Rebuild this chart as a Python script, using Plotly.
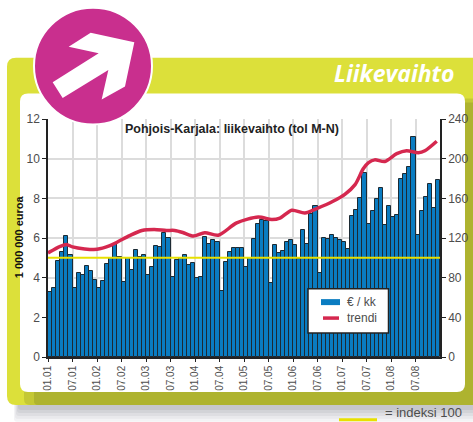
import plotly.graph_objects as go

W, H = 473, 422
L, R, T, B = 48, 440, 118.5, 357

# Monthly turnover, 01.01 .. 12.08 (million euro)
months = list(range(96))
revenue = [
    3.3, 3.5, 4.85, 5.3, 6.1, 5.15, 3.5, 4.25, 4.15, 4.6, 4.33, 3.9,
    3.47, 3.82, 4.7, 5.0, 5.7, 5.03, 3.8, 5.0, 4.38, 5.4, 5.05, 5.13,
    4.13, 4.53, 5.6, 5.55, 6.25, 6.0, 4.03, 4.9, 4.97, 5.13, 4.63, 4.75,
    3.97, 4.05, 6.05, 5.68, 5.88, 5.8, 3.33, 4.78, 5.28, 5.48, 5.48, 5.48,
    4.53, 5.0, 5.95, 6.7, 6.9, 6.87, 3.72, 5.64, 5.24, 5.34, 5.8, 5.88,
    5.64, 4.93, 6.4, 5.68, 7.23, 7.63, 4.22, 6.02, 5.97, 6.15, 6.02, 5.89,
    5.8, 5.47, 7.13, 7.43, 8.03, 9.3, 6.7, 7.38, 7.95, 8.54, 6.68, 7.63,
    7.08, 7.18, 8.99, 9.24, 9.56, 11.07, 6.14, 7.35, 8.09, 8.74, 7.53, 8.94,
]
trend_x = [0, 3, 4.5, 6, 9, 12, 15, 17, 20, 23, 26, 29, 31, 33, 35.6, 38.4, 41.7,
           46.2, 51.5, 54.8, 56.8, 59.7, 62.9, 65.8, 69.8, 72.7, 75.2, 77.2, 78.5,
           80, 82.5, 85.4, 87.8, 90.7, 92.3, 95.2]
trend_y = [5.25, 5.58, 5.67, 5.55, 5.45, 5.43, 5.6, 5.8, 6.12, 6.38, 6.43, 6.38, 6.38, 6.28,
           6.1, 6.27, 6.14, 6.76, 7.06, 6.93, 7.0, 7.4, 7.26, 7.48, 7.85, 8.2, 8.69,
           9.49, 9.8, 9.94, 9.86, 10.25, 10.4, 10.3, 10.4, 10.88]
index_x = [0, 96]
index_y = [100, 100]
tick_months = list(range(0, 96, 6))
tick_labels = ["01.01", "07.01", "01.02", "07.02", "01.03", "07.03", "01.04", "07.04",
               "01.05", "07.05", "01.06", "07.06", "01.07", "07.07", "01.08", "07.08"]

FONT = "Liberation Sans, sans-serif"
GREY = "#4d4d4d"
BLUE = "#0a7cc1"
RED = "#d5284f"


def px(x):
    return (x - L) / (R - L)


def py(y):
    return (B - y) / (B - T)


def rrect(x0, y0, x1, y1, r):
    return (f"M{px(x0+r)},{py(y0)} L{px(x1-r)},{py(y0)} Q{px(x1)},{py(y0)} {px(x1)},{py(y0+r)} "
            f"L{px(x1)},{py(y1-r)} Q{px(x1)},{py(y1)} {px(x1-r)},{py(y1)} "
            f"L{px(x0+r)},{py(y1)} Q{px(x0)},{py(y1)} {px(x0)},{py(y1-r)} "
            f"L{px(x0)},{py(y0+r)} Q{px(x0)},{py(y0)} {px(x0+r)},{py(y0)} Z")


def deco(path, color, layer="below"):
    return dict(type="path", xref="paper", yref="paper", path=path, fillcolor=color,
                line=dict(width=0), layer=layer)


def label(text, x, y, size, color=GREY, xanchor="center", angle=0, family=FONT):
    return dict(text=text, xref="paper", yref="paper", x=px(x), y=py(y), xanchor=xanchor,
                yanchor="middle", textangle=angle, showarrow=False,
                font=dict(size=size, color=color, family=family))


shapes = []
# soft drop shadow below the frame
for i, c in enumerate(["#f3f3f5", "#e9e9ec", "#dedee2", "#d2d3d7", "#c6c7cc"]):
    shapes.append(deco(rrect(14 + i, 400, 480, 422 - i * 3, 3), c))
shapes.append(deco(rrect(7, 57, 490, 405, 9), "#dce03a"))
shapes.append(deco(rrect(24, 98, 490, 405, 6), "#c4c834"))
shapes.append(deco(rrect(34, 102, 490, 405, 4), "#aeb32f"))
shapes.append(deco(rrect(20, 93, 465, 392, 8), "#ffffff"))
# legend box
shapes.append(dict(type="rect", xref="paper", yref="paper", x0=px(308), x1=px(388.5), y0=py(288.5), y1=py(333),
                   fillcolor="#ffffff", line=dict(color="#222", width=1.5), layer="above"))
shapes.append(dict(type="rect", xref="paper", yref="paper", x0=px(321), x1=px(340), y0=py(299), y1=py(305),
                   fillcolor=BLUE, line=dict(width=0), layer="above"))
shapes.append(dict(type="line", xref="paper", yref="paper", x0=px(323), x1=px(339), y0=py(318), y1=py(318),
                   line=dict(color=RED, width=3.5), layer="above"))
# index legend sample below the frame
shapes.append(dict(type="line", xref="paper", yref="paper", x0=px(339), x1=px(377),
                   y0=py(420), y1=py(420), line=dict(color="#e8e000", width=3), layer="above"))
# badge
shapes.append(dict(type="circle", xref="paper", yref="paper", x0=px(34), x1=px(152),
                   y0=py(124), y1=py(7), fillcolor="#c92f8e",
                   line=dict(color="#ffffff", width=2), layer="above"))
arrow = [(272, 96), (403, 125), (375, 258), (305, 297), (325, 208), (188, 292), (158, 245), (296, 158), (206, 138)]
arrow_path = "M" + " L".join(f"{px(a/3)},{py(b/3)}" for a, b in arrow) + " Z"
shapes.append(deco(arrow_path, "#ffffff", "above"))

fig = go.Figure()
fig.add_bar(x=[m + 0.5 for m in months], y=revenue, width=1, name="€ / kk",
            marker=dict(color=BLUE, line=dict(color="#1c2a33", width=1)))
fig.add_scatter(x=index_x, y=index_y, yaxis="y2", mode="lines",
                line=dict(color="#e8e000", width=2), name="indeksi 100")
fig.add_scatter(x=trend_x, y=trend_y, mode="lines", name="trendi",
                line=dict(color=RED, width=3.5, shape="spline", smoothing=0.8))

fig.update_layout(
    width=W, height=H, autosize=False, showlegend=False,
    margin=dict(l=L, r=W - R, t=T, b=H - B, pad=0),
    paper_bgcolor="#ffffff", plot_bgcolor="rgba(0,0,0,0)",
    font=dict(family=FONT, size=12, color=GREY),
    shapes=shapes, bargap=0,
    xaxis=dict(range=[0, 96], tickmode="array", tickvals=tick_months, ticktext=tick_labels,
               tickangle=-90, ticks="outside", ticklen=3, tickcolor="#222", showline=True,
               linecolor="#222", linewidth=1.5, showgrid=True, gridcolor="#dcdcdc", gridwidth=1.5,
               tickfont=dict(size=10, color=GREY), zeroline=False, automargin=False),
    yaxis=dict(range=[0, 12], dtick=2, ticks="outside", ticklen=4, tickcolor="#222", showline=True,
               linecolor="#222", linewidth=1.5, showgrid=True, gridcolor="#dcdcdc", gridwidth=1.5,
               tickfont=dict(size=12, color=GREY), zeroline=False, automargin=False),
    yaxis2=dict(range=[0, 240], dtick=40, overlaying="y", side="right", ticks="outside", ticklen=4,
                tickcolor="#222", showline=True, linecolor="#222", linewidth=1.5, showgrid=False,
                tickfont=dict(size=12, color=GREY), zeroline=False, automargin=False),
    annotations=[
        label("<b>Pohjois-Karjala: liikevaihto (tol M-N)</b>", 231.5, 129, 12.5, "#222"),
        label("<b>1 000 000 euroa</b>", 19, 237, 11, "#111", angle=-90),
        label("<b><i>Liikevaihto</i></b>", 457, 72, 23, "#ffffff", xanchor="right", family="Open Sans, sans-serif"),
        label("= indeksi 100", 383, 413, 13, xanchor="left"),
        label("€ / kk", 345, 302, 12, xanchor="left"),
        label("trendi", 345, 318, 12, xanchor="left"),
    ],
)

fig.write_html("out.html", config=dict(displayModeBar=False),
               post_script="document.body.style.margin='0';document.body.style.overflow='hidden';")
